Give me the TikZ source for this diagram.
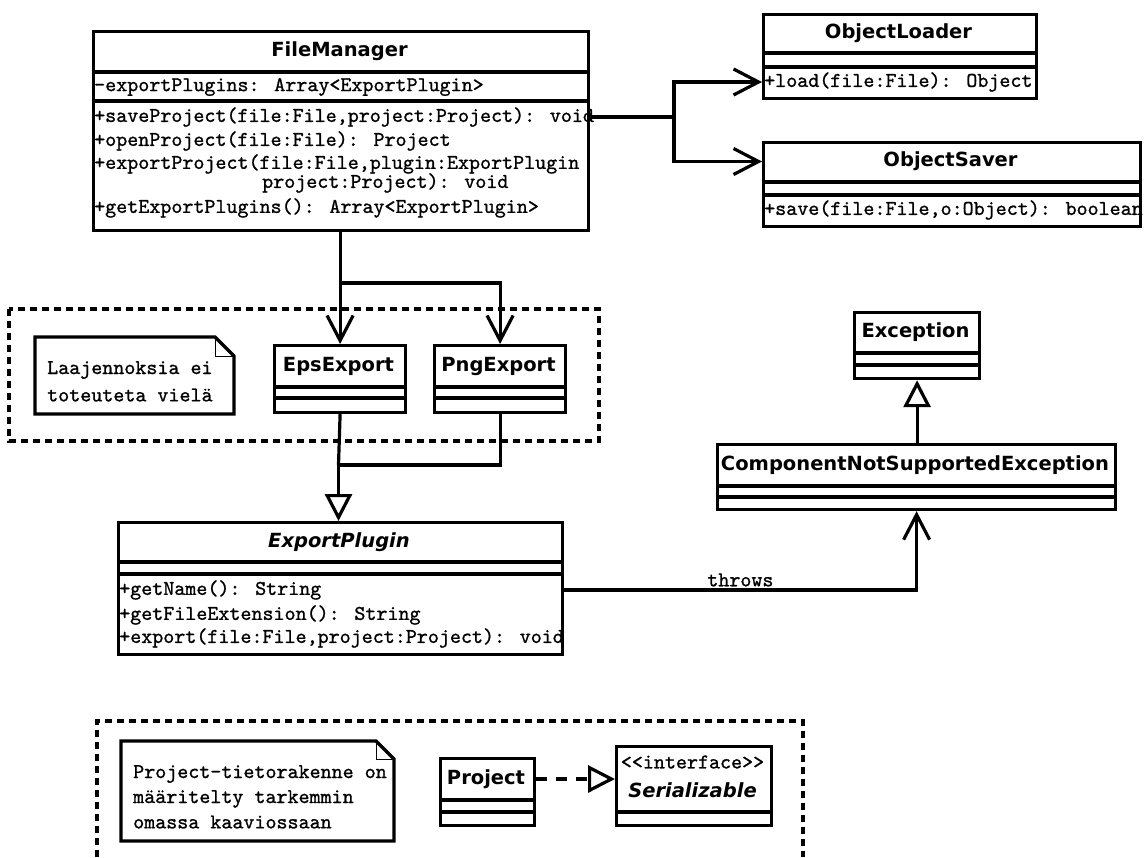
\documentclass[tikz,border=0pt]{standalone}
\usepackage{fontspec}
\setsansfont{DejaVu Sans}
\newfontfamily\memberfont{lmmono10-regular.otf}[FakeBold=1]
\usetikzlibrary{arrows.meta}

\newcommand\umlname{\sffamily\bfseries\fontsize{19.5}{22}\selectfont}
\newcommand\umlabstract{\sffamily\bfseries\itshape\fontsize{19.5}{22}\selectfont}
\newcommand\umlmono{\memberfont\fontsize{21}{23}\selectfont}

\begin{document}
\begin{tikzpicture}[x=1pt,y=-1pt,
  lw/.style={line width=3.2pt},
  classbox/.style={draw, line width=3.2pt, fill=white, inner sep=0pt, anchor=north west},
  clsname/.style={font=\umlname, inner sep=0pt},
  absname/.style={font=\umlabstract, inner sep=0pt},
  mem/.style={font=\umlmono, anchor=west, inner sep=0pt},
  sepline/.style={line width=3.2pt},
  barb/.style={-{Straight Barb[length=25pt,width=26pt]}},
  hollowtri/.style={-{Triangle[length=27pt,width=27pt,fill=white]}},
  framedash/.style={line width=3.2pt, dash pattern=on 7pt off 5pt},
  notebox/.style={line width=3.2pt, fill=white, line join=miter},
  notefold/.style={line width=0.9pt}
]
\useasboundingbox (0,0) rectangle (1146,857);
\fill[white] (0,0) rectangle (1146,857);

% ---------- package frames ----------
\draw[framedash] (9,309) rectangle (599,441);
\draw[framedash] (97,857) -- (97,721) -- (803,721) -- (803,857);

% ---------- FileManager ----------
\node[classbox, minimum width=495pt, minimum height=199pt] (fm) at (92,30) {};
\draw[sepline] (fm.west |- 0,72) -- (fm.east |- 0,72);
\draw[sepline] (fm.west |- 0,101) -- (fm.east |- 0,101);
\node[clsname] (fmt) at (339.5,51) {FileManager};
\node[mem] (fma) at (94,87) {-exportPlugins: Array<ExportPlugin>};
\node[mem] (fms) at (94,117) {+saveProject(file:File,project:Project): void};
\node[mem] (fmo) at (94,141) {+openProject(file:File): Project};
\node[mem] (fme) at (94,164) {+exportProject(file:File,plugin:ExportPlugin};
\node[mem] (fme2) at (262,183) {project:Project): void};
\node[mem] (fmg) at (94,208) {+getExportPlugins(): Array<ExportPlugin>};

% ---------- ObjectLoader ----------
\node[classbox, minimum width=273pt, minimum height=84pt] (ol) at (762,13) {};
\draw[sepline] (ol.west |- 0,53) -- (ol.east |- 0,53);
\draw[sepline] (ol.west |- 0,67) -- (ol.east |- 0,67);
\node[clsname] (olt) at (898.5,33) {ObjectLoader};
\node[mem] (olm) at (764,82) {+load(file:File): Object};

% ---------- ObjectSaver ----------
\node[classbox, minimum width=377pt, minimum height=84pt] (os) at (762,141) {};
\draw[sepline] (os.west |- 0,182) -- (os.east |- 0,182);
\draw[sepline] (os.west |- 0,195) -- (os.east |- 0,195);
\node[clsname] (ost) at (950.5,161.5) {ObjectSaver};
\node[mem] (osm) at (764,210) {+save(file:File,o:Object): boolean};

% ---------- EpsExport / PngExport ----------
\node[classbox, minimum width=131pt, minimum height=67pt] (eps) at (273,344) {};
\draw[sepline] (eps.west |- 0,387) -- (eps.east |- 0,387);
\draw[sepline] (eps.west |- 0,398) -- (eps.east |- 0,398);
\node[clsname] (epst) at (338.5,366) {EpsExport};

\node[classbox, minimum width=131pt, minimum height=67pt] (png) at (433,344) {};
\draw[sepline] (png.west |- 0,387) -- (png.east |- 0,387);
\draw[sepline] (png.west |- 0,398) -- (png.east |- 0,398);
\node[clsname] (pngt) at (498.5,366) {PngExport};

% ---------- ExportPlugin ----------
\node[classbox, minimum width=444pt, minimum height=132pt] (ep) at (117,521) {};
\draw[sepline] (ep.west |- 0,562) -- (ep.east |- 0,562);
\draw[sepline] (ep.west |- 0,574) -- (ep.east |- 0,574);
\node[absname] (ept) at (339,542) {ExportPlugin};
\node[mem] (epm1) at (119,590) {+getName(): String};
\node[mem] (epm2) at (119,615) {+getFileExtension(): String};
\node[mem] (epm3) at (119,638) {+export(file:File,project:Project): void};

% ---------- Exceptions ----------
\node[classbox, minimum width=125pt, minimum height=66pt] (exc) at (853,311) {};
\draw[sepline] (exc.west |- 0,353) -- (exc.east |- 0,353);
\draw[sepline] (exc.west |- 0,365) -- (exc.east |- 0,365);
\node[clsname] (exct) at (915.5,332) {Exception};

\node[classbox, minimum width=398pt, minimum height=65pt] (cnse) at (716,443) {};
\draw[sepline] (cnse.west |- 0,486) -- (cnse.east |- 0,486);
\draw[sepline] (cnse.west |- 0,497) -- (cnse.east |- 0,497);
\node[clsname] (cnset) at (915,465) {ComponentNotSupportedException};

% ---------- Project / Serializable ----------
\node[classbox, minimum width=94pt, minimum height=67pt] (proj) at (439,757) {};
\draw[sepline] (proj.west |- 0,800) -- (proj.east |- 0,800);
\draw[sepline] (proj.west |- 0,812) -- (proj.east |- 0,812);
\node[clsname] (projt) at (486,779) {Project};

\node[classbox, minimum width=155pt, minimum height=79pt] (ser) at (615,745) {};
\draw[sepline] (ser.west |- 0,812) -- (ser.east |- 0,812);
\node[mem, anchor=center] (sers) at (692.5,762) {<<interface>>};
\node[absname] (sert) at (692.5,790) {Serializable};

% ---------- notes ----------
\draw[notebox] (35,337) -- (215,337) -- (234,356) -- (234,414) -- (35,414) -- cycle;
\draw[notefold] (215,337) -- (215,356) -- (234,356);
\node[mem] (n1a) at (47,370) {Laajennoksia ei};
\node[mem] (n1b) at (47,395) {toteuteta vielä};

\draw[notebox] (121,741) -- (376,741) -- (394,759) -- (394,841) -- (121,841) -- cycle;
\draw[notefold] (376,741) -- (376,759) -- (394,759);
\node[mem] (n2a) at (133,774) {Project-tietorakenne on};
\node[mem] (n2b) at (133,799) {määritelty tarkemmin};
\node[mem] (n2c) at (133,822) {omassa kaaviossaan};

% ---------- connectors ----------
\coordinate (jf) at (674,117);
\draw[lw, barb] (fm.east |- fms) -- (jf) |- (ol.west |- olm);
\draw[lw, barb] (jf) |- (os.west |- ost);

\coordinate (jb) at (338.5,283);
\draw[lw, barb] (fm.south -| eps.north) -- (eps.north);
\draw[lw, barb] (jb) -| (png.north);

\coordinate (jc) at (338.5,465);
\draw[lw] (eps.south) -- (jc);
\draw[lw] (png.south) |- (jc);
\draw[lw, hollowtri] (jc) -- (ep.north -| jc);

\draw[lw, barb] (ep.east |- epm1) -| node[pos=0.25, anchor=south, inner sep=2pt, font=\umlmono] (thr) {throws} (cnse.south);

\draw[lw, hollowtri] (cnse.north -| exc.south) -- (exc.south);

\draw[lw, dash pattern=on 11pt off 9pt, hollowtri] (proj.east |- projt) -- (ser.west |- projt);
\end{tikzpicture}
\end{document}
